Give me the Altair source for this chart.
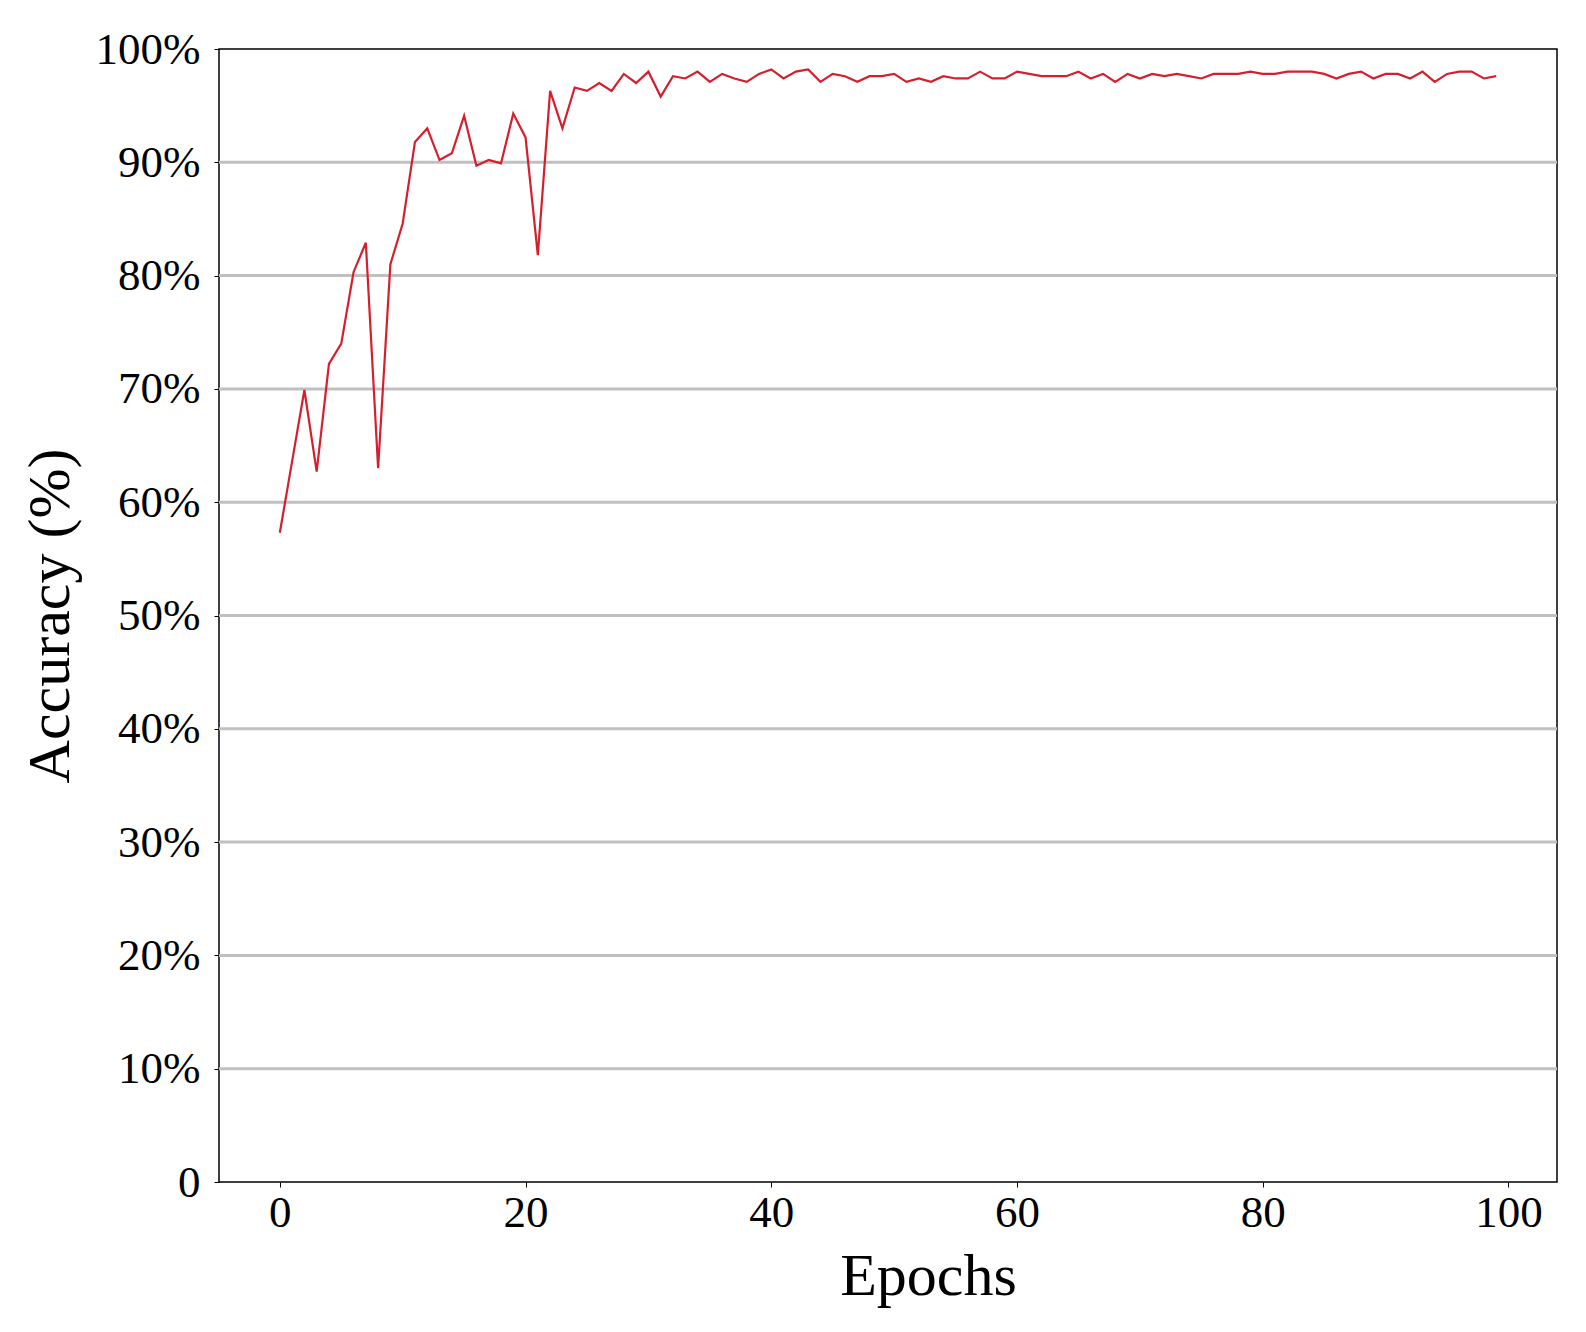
import altair as alt
import pandas as pd

epochs = list(range(100))
accuracy = [
    57.3, 63.6, 69.9, 62.7, 72.2, 74.0, 80.3, 82.9, 63.0, 81.0,
    84.6, 91.8, 93.0, 90.2, 90.8, 94.1, 89.7, 90.2, 89.9, 94.3,
    92.2, 81.8, 96.3, 93.0, 96.6, 96.3, 97.0, 96.3, 97.8, 97.0,
    98.0, 95.8, 97.6, 97.4, 98.0, 97.1, 97.8, 97.4, 97.1, 97.8,
    98.2, 97.4, 98.0, 98.2, 97.1, 97.8, 97.6, 97.1, 97.6, 97.6,
    97.8, 97.1, 97.4, 97.1, 97.6, 97.4, 97.4, 98.0, 97.4, 97.4,
    98.0, 97.8, 97.6, 97.6, 97.6, 98.0, 97.4, 97.8, 97.1, 97.8,
    97.4, 97.8, 97.6, 97.8, 97.6, 97.4, 97.8, 97.8, 97.8, 98.0,
    97.8, 97.8, 98.0, 98.0, 98.0, 97.8, 97.4, 97.8, 98.0, 97.4,
    97.8, 97.8, 97.4, 98.0, 97.1, 97.8, 98.0, 98.0, 97.4, 97.6,
]
x_ticks = [0, 20, 40, 60, 80, 100]
y_ticks = [0, 10, 20, 30, 40, 50, 60, 70, 80, 90, 100]
grid_lines = [10, 20, 30, 40, 50, 60, 70, 80, 90]

df = pd.DataFrame({"epoch": epochs, "acc": accuracy})
grid_df = pd.DataFrame({"g": grid_lines})

FONT = "Liberation Serif"

x_scale = alt.Scale(domain=[-4.95, 103.95], nice=False, zero=False)
y_scale = alt.Scale(domain=[0, 100], nice=False)

x_axis = alt.Axis(
    values=x_ticks, title="Epochs", grid=False, domain=False,
    tickSize=5, tickColor="black", tickWidth=1,
    labelPadding=3, labelFontSize=45, labelFont=FONT, labelColor="black",
    titleFont=FONT, titleFontSize=60, titleFontWeight="normal", titleColor="black",
    titlePadding=12, titleX=709, labelFlush=False,
)
y_axis = alt.Axis(
    values=y_ticks, title="Accuracy (%)", grid=False, domain=False,
    tickSize=5, tickColor="black", tickWidth=1,
    labelPadding=14, labelFontSize=45, labelFont=FONT, labelColor="black",
    labelExpr="datum.value == 0 ? '0' : datum.value + '%'",
    titleFont=FONT, titleFontSize=60, titleFontWeight="normal", titleColor="black",
    titlePadding=14, labelFlush=False,
)

grid = alt.Chart(grid_df).mark_rule(color="#c0c0c0", strokeWidth=3).encode(
    y=alt.Y("g:Q", scale=y_scale, axis=y_axis),
)

line = alt.Chart(df).mark_line(color="#d61f2c", strokeWidth=2.2).encode(
    x=alt.X("epoch:Q", scale=x_scale, axis=x_axis),
    y=alt.Y("acc:Q", scale=y_scale, axis=y_axis),
)

chart = (
    alt.layer(grid, line)
    .properties(
        width=1338,
        height=1133,
        padding={"left": 211, "top": 41, "right": 10, "bottom": 140},
        autosize=alt.AutoSizeParams(type="none"),
        background="white",
    )
    .configure_view(stroke="black", strokeWidth=1.5)
)

chart.save("out.html", embed_options={"renderer": "svg", "actions": False})
